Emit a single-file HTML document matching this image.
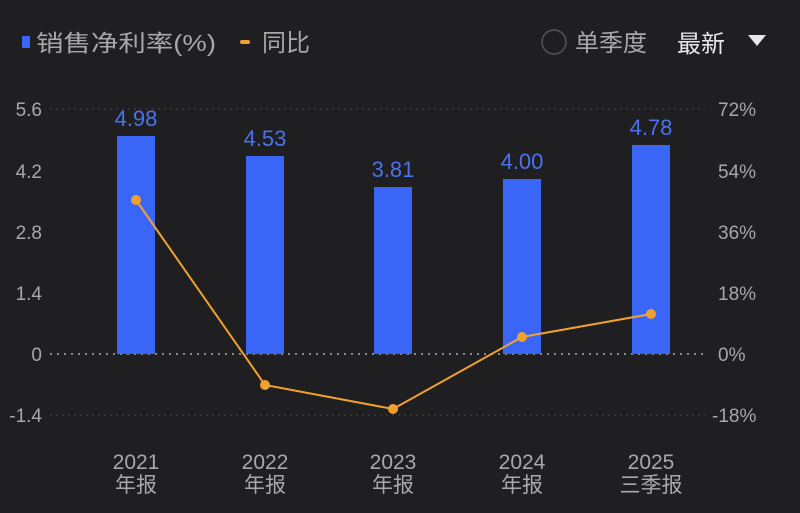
<!DOCTYPE html><html><head><meta charset="utf-8"><style>
body{margin:0;background:#1f1f21;}
svg text{font-family:"Liberation Sans","Noto Sans CJK SC",sans-serif;}
</style></head><body>
<svg width="800" height="508" viewBox="0 0 800 508" xmlns="http://www.w3.org/2000/svg">
<rect width="800" height="508" fill="#1f1f21"/>
<rect x="22" y="36" width="8" height="12" rx="1" fill="#3a66f7"/>
<text x="36" y="51" font-size="23" fill="#a8a8aa" textLength="180" lengthAdjust="spacingAndGlyphs">销售净利率(%)</text>
<rect x="240" y="40" width="10" height="4" rx="2" fill="#f0a030"/>
<text x="262" y="51" font-size="24" fill="#a8a8aa">同比</text>
<circle cx="554" cy="42" r="12" fill="none" stroke="#555" stroke-width="1.5"/>
<text x="575" y="51" font-size="24" fill="#a8a8aa">单季度</text>
<text x="677" y="52" font-size="24" fill="#e8e8e8">最新</text>
<polygon points="748,35 766,35 757,46" fill="#e8e8e8"/>
<g stroke="#3a3a3c" stroke-width="1.5" stroke-dasharray="2,4">
<line x1="50" y1="109" x2="705" y2="109"/><line x1="50" y1="415" x2="705" y2="415"/>
</g>
<line x1="50" y1="354" x2="705" y2="354" stroke="#8a8a8c" stroke-width="2" stroke-dasharray="2,5"/>
<g font-size="19" fill="#a8a8aa" text-anchor="end">
<text x="42" y="116">5.6</text><text x="42" y="178">4.2</text><text x="42" y="239">2.8</text>
<text x="42" y="300">1.4</text><text x="42" y="361">0</text><text x="42" y="422">-1.4</text>
</g>
<g font-size="19" fill="#a8a8aa">
<text x="718" y="116">72%</text><text x="718" y="178">54%</text><text x="718" y="239">36%</text>
<text x="718" y="300">18%</text><text x="718" y="361">0%</text><text x="712" y="422">-18%</text>
</g>
<g fill="#3a66f7">
<rect x="117" y="136" width="38" height="218"/>
<rect x="246" y="156" width="38" height="198"/>
<rect x="374" y="187" width="38" height="167"/>
<rect x="503" y="179" width="38" height="175"/>
<rect x="632" y="145" width="38" height="209"/>
</g>
<g font-size="22" fill="#4a72f0" text-anchor="middle">
<text x="136" y="126">4.98</text><text x="265" y="146">4.53</text><text x="393" y="177">3.81</text>
<text x="522" y="169">4.00</text><text x="651" y="135">4.78</text>
</g>
<polyline points="136,200 265,385 393,409 522,337 651,314" fill="none" stroke="#f0a030" stroke-width="2"/>
<g fill="#f0a030">
<circle cx="136" cy="200" r="5"/><circle cx="265" cy="385" r="5"/><circle cx="393" cy="409" r="5"/>
<circle cx="522" cy="337" r="5"/><circle cx="651" cy="314" r="5"/>
</g>
<g font-size="21" fill="#a8a8aa" text-anchor="middle">
<text x="136" y="469">2021</text><text x="136" y="492">年报</text>
<text x="265" y="469">2022</text><text x="265" y="492">年报</text>
<text x="393" y="469">2023</text><text x="393" y="492">年报</text>
<text x="522" y="469">2024</text><text x="522" y="492">年报</text>
<text x="651" y="469">2025</text><text x="651" y="492">三季报</text>
</g>
</svg>
</body></html>
